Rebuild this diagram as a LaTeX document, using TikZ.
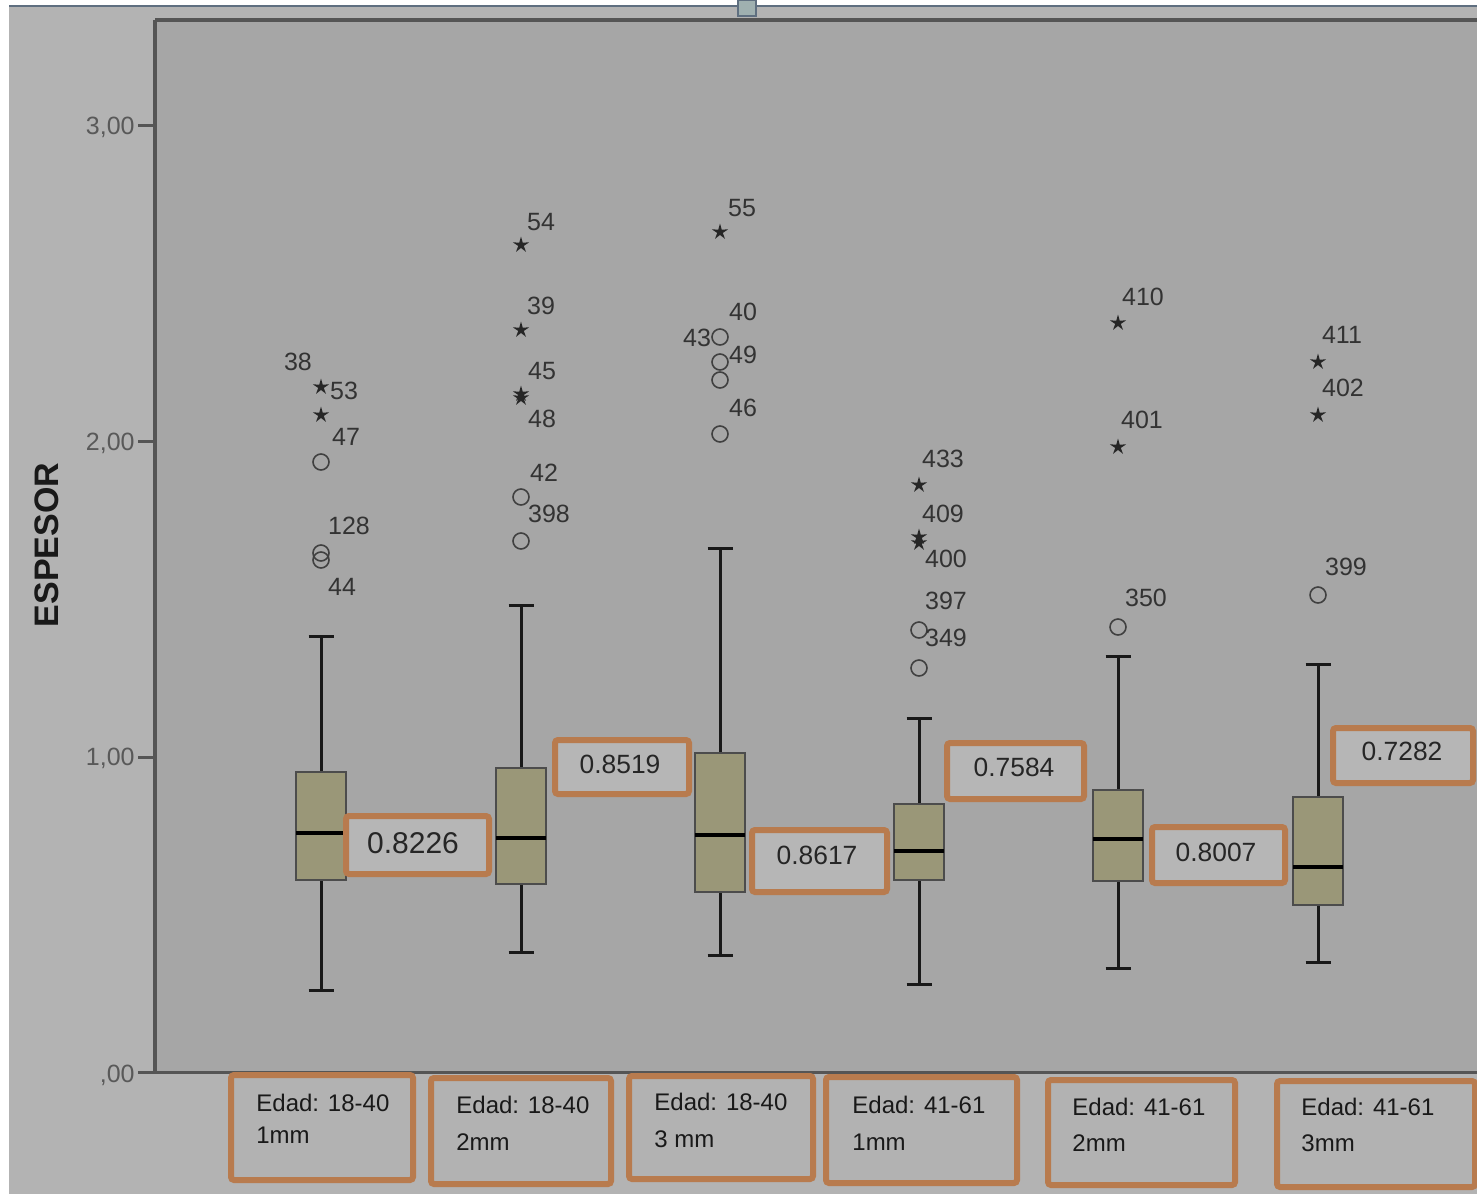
\documentclass[tikz,border=0pt]{standalone}
\usepackage{fontspec}
\setmainfont{Liberation Sans}
\usetikzlibrary{shapes.geometric}
\definecolor{outerbg}{HTML}{B3B3B3}
\definecolor{plotbg}{HTML}{A6A6A6}
\definecolor{boxfill}{HTML}{9A9778}
\definecolor{orangec}{HTML}{B87B4E}
\definecolor{valfill}{HTML}{B6B6B6}
\definecolor{labfill}{HTML}{B2B2B2}
\definecolor{axisc}{HTML}{555555}
\definecolor{topline}{HTML}{5F6F80}
\definecolor{handlec}{HTML}{9FB0B0}
\newcommand\bxplot[6]{%
  \draw[whisk] (#1,#3) -- (#1,#5);
  \draw[whisk] ({#1-12.5},#5) -- ({#1+12.5},#5);
  \draw[whisk] (#1,#2) -- (#1,#6);
  \draw[whisk] ({#1-12.5},#6) -- ({#1+12.5},#6);
  \draw[bxs] ({#1-25},#2) rectangle ({#1+25},#3);
  \draw[medl] ({#1-25},#4) -- ({#1+25},#4);
}
\begin{document}
\begin{tikzpicture}[x=0.5pt,y=-0.5pt,
  whisk/.style={black!90,line width=1.5pt},
  bxs/.style={fill=boxfill,draw=black!70,line width=1pt},
  medl/.style={black,line width=2pt},
  outc/.style={circle,draw=black!75,line width=0.8pt,minimum size=8pt,inner sep=0pt},
  outs/.style={star,star points=5,star point ratio=2.9,fill=black!85,minimum size=8.5pt,inner sep=0pt},
  lab/.style={font=\fontsize{12.5}{14}\selectfont,text=black!80,inner sep=0pt},
  tick/.style={font=\fontsize{12.5}{14}\selectfont,text=black!65,inner sep=0pt,anchor=east},
  valbox/.style={draw=orangec,line width=3pt,fill=valfill,rounded corners=1.5pt,inner sep=0pt},
  valtext/.style={font=\fontsize{13.2}{15}\selectfont,text=black!85,inner sep=0pt},
  catbox/.style={draw=orangec,line width=3pt,fill=labfill,rounded corners=1.5pt,inner sep=0pt},
  cattext/.style={font=\fontsize{12}{14}\selectfont,text=black!90,inner sep=0pt,anchor=west}]
\useasboundingbox (0,0) rectangle (1477,1194);
% backgrounds
\fill[white] (0,0) rectangle (1477,1194);
\fill[outerbg] (9,6) rectangle (1477,1194);
\draw[topline,line width=1pt] (9,6) -- (1477,6);
\draw[topline,fill=handlec,line width=0.8pt] (738,0) rectangle (756,16);
\fill[plotbg] (155,20) rectangle (1477,1072);
% axes
\draw[axisc,line width=2pt] (155,20) -- (1477,20);
\draw[axisc,line width=2pt] (155,20) -- (155,1072);
\draw[axisc,line width=1.5pt] (138,1072) -- (1477,1072);
\foreach \yy in {125,441,757} \draw[axisc,line width=1.5pt] (138,\yy) -- (155,\yy);
\node[tick] (t3) at (135,127) {3,00};
\node[tick] (t2) at (135,443) {2,00};
\node[tick] (t1) at (135,758) {1,00};
\node[tick] (t0) at (135,1075) {,00};
\node[rotate=90,font=\bfseries\fontsize{17}{19}\selectfont,text=black!90] (ylab) at (47,545) {ESPESOR};
% box plots
\bxplot{321}{880}{772}{833}{636}{990}
\bxplot{521}{884}{768}{838}{605}{952}
\bxplot{720}{892}{753}{835}{548}{955}
\bxplot{919}{880}{804}{851}{718}{984}
\bxplot{1118}{881}{790}{839}{656}{968}
\bxplot{1318}{905}{797}{867}{664}{962}
% outliers group 1
\node[outs] (s38) at (321,387) {};
\node[outs] (s47) at (321,415) {};
\node[outc] (c1a) at (321,462) {};
\node[outc] (c128) at (321,553) {};
\node[outc] (c44) at (321,560) {};
\node[lab] (l38) at (298,362) {38};
\node[lab] (l53) at (344,391) {53};
\node[lab] (l47) at (346,437) {47};
\node[lab] (l128) at (349,526) {128};
\node[lab] (l44) at (342,587) {44};
% outliers group 2
\node[outs] (s54) at (521,245) {};
\node[outs] (s39) at (521,330) {};
\node[outs] (s45) at (521,394) {};
\node[outs] (s48) at (521,398) {};
\node[outc] (c42) at (521,497) {};
\node[outc] (c398) at (521,541) {};
\node[lab] (l54) at (541,222) {54};
\node[lab] (l39) at (541,306) {39};
\node[lab] (l45) at (542,371) {45};
\node[lab] (l48) at (542,419) {48};
\node[lab] (l42) at (544,473) {42};
\node[lab] (l398) at (549,514) {398};
% outliers group 3
\node[outs] (s55) at (720,232) {};
\node[outc] (c43) at (720,337) {};
\node[outc] (c49) at (720,362) {};
\node[outc] (c3a) at (720,380) {};
\node[outc] (c46) at (720,434) {};
\node[lab] (l55) at (742,208) {55};
\node[lab] (l40) at (743,312) {40};
\node[lab] (l43) at (697,338) {43};
\node[lab] (l49) at (743,355) {49};
\node[lab] (l46) at (743,408) {46};
% outliers group 4
\node[outs] (s433) at (919,485) {};
\node[outs] (s409) at (919,537) {};
\node[outs] (s400) at (919,543) {};
\node[outc] (c397) at (919,630) {};
\node[outc] (c349) at (919,668) {};
\node[lab] (l433) at (943,459) {433};
\node[lab] (l409) at (943,514) {409};
\node[lab] (l400) at (946,559) {400};
\node[lab] (l397) at (946,601) {397};
\node[lab] (l349) at (946,638) {349};
% outliers group 5
\node[outs] (s410) at (1118,323) {};
\node[outs] (s401) at (1118,447) {};
\node[outc] (c350) at (1118,627) {};
\node[lab] (l410) at (1143,297) {410};
\node[lab] (l401) at (1142,420) {401};
\node[lab] (l350) at (1146,598) {350};
% outliers group 6
\node[outs] (s411) at (1318,362) {};
\node[outs] (s402) at (1318,415) {};
\node[outc] (c399) at (1318,595) {};
\node[lab] (l411) at (1342,335) {411};
\node[lab] (l402) at (1343,388) {402};
\node[lab] (l399) at (1346,567) {399};
% value boxes
\node[valbox,minimum width=71.5pt,minimum height=29pt] (v1) at (417.5,845) {};
\node[valtext,font=\fontsize{15}{17}\selectfont] (vt1) at (413,843) {0.8226};
\node[valbox,minimum width=67pt,minimum height=27pt] (v2) at (622,767) {};
\node[valtext] (vt2) at (620,764) {0.8519};
\node[valbox,minimum width=67.5pt,minimum height=31pt] (v3) at (819.5,861) {};
\node[valtext] (vt3) at (817,855) {0.8617};
\node[valbox,minimum width=68.5pt,minimum height=28pt] (v4) at (1015.5,771) {};
\node[valtext] (vt4) at (1014,767) {0.7584};
\node[valbox,minimum width=66.5pt,minimum height=28pt] (v5) at (1218.5,855) {};
\node[valtext] (vt5) at (1216,852) {0.8007};
\node[valbox,minimum width=70pt,minimum height=27.5pt] (v6) at (1403,755.5) {};
\node[valtext] (vt6) at (1402,751) {0.7282};
% category boxes
\node[catbox,minimum width=91pt,minimum height=52.5pt] (b1) at (322,1127.5) {};
\node[cattext] (b1a) at (256,1103) {Edad: 18-40};
\node[cattext] (b1b) at (256,1135) {1mm};
\node[catbox,minimum width=90pt,minimum height=53pt] (b2) at (521,1131) {};
\node[cattext] (b2a) at (456,1105) {Edad: 18-40};
\node[cattext] (b2b) at (456,1142) {2mm};
\node[catbox,minimum width=92pt,minimum height=51.5pt] (b3) at (721,1127.5) {};
\node[cattext] (b3a) at (654,1102) {Edad: 18-40};
\node[cattext] (b3b) at (654,1139) {3 mm};
\node[catbox,minimum width=95.5pt,minimum height=53pt] (b4) at (921.5,1130) {};
\node[cattext] (b4a) at (852,1105) {Edad: 41-61};
\node[cattext] (b4b) at (852,1142) {1mm};
\node[catbox,minimum width=93.5pt,minimum height=52.5pt] (b5) at (1141.5,1132.5) {};
\node[cattext] (b5a) at (1072,1107) {Edad: 41-61};
\node[cattext] (b5b) at (1072,1143) {2mm};
\node[catbox,minimum width=99pt,minimum height=53pt] (b6) at (1376,1134) {};
\node[cattext] (b6a) at (1301,1107) {Edad: 41-61};
\node[cattext] (b6b) at (1301,1143) {3mm};
\end{tikzpicture}
\end{document}
